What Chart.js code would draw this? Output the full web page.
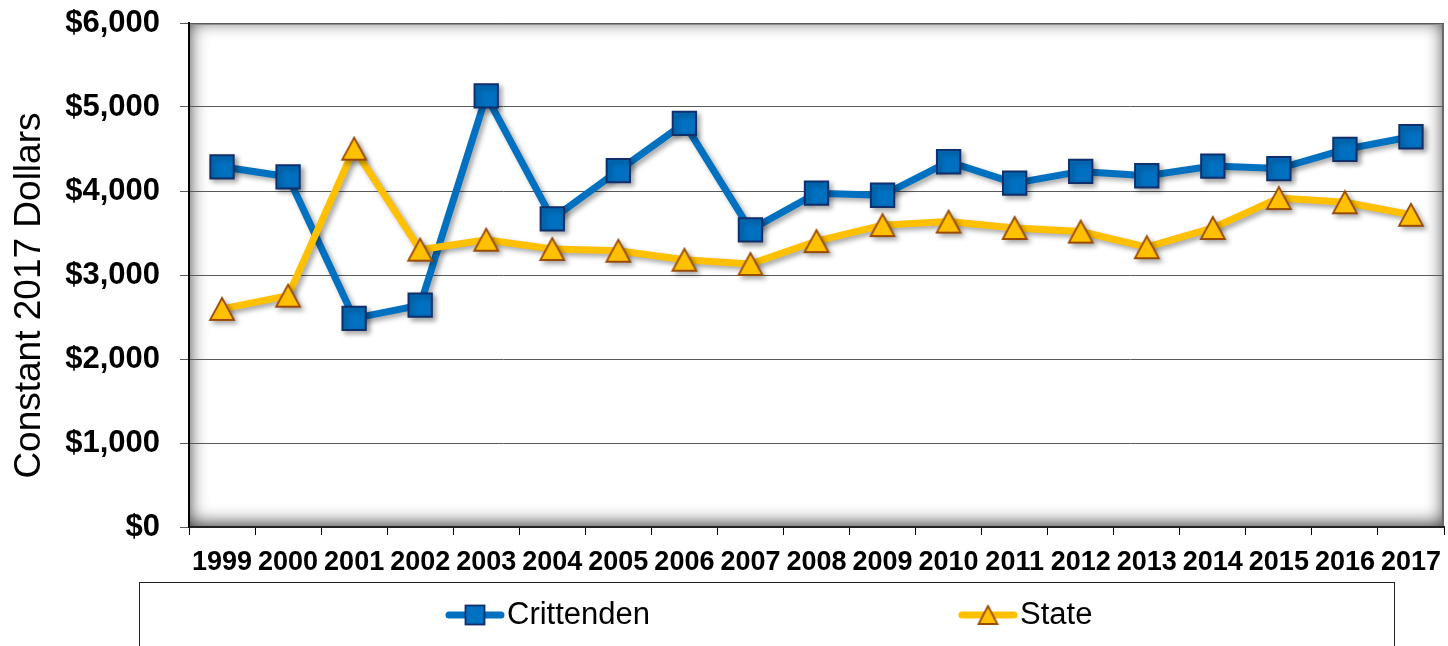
<!DOCTYPE html>
<html>
<head>
<meta charset="utf-8">
<script src="https://cdn.jsdelivr.net/npm/chart.js@4.4.1/dist/chart.umd.min.js"></script>
<style>
  body { margin: 0; background: #fff; }
  #chart { display: block; }
</style>
</head>
<body>
<canvas id="chart" width="1448" height="646"></canvas>
<script>
const years = ["1999", "2000", "2001", "2002", "2003", "2004", "2005", "2006", "2007", "2008",
  "2009", "2010", "2011", "2012", "2013", "2014", "2015", "2016", "2017"];
const crittenden = [4288, 4169, 2484, 2641, 5133, 3669, 4242, 4806, 3537, 3974,
  3949, 4348, 4093, 4233, 4182, 4297, 4267, 4495, 4646];
const state = [2596, 2754, 4504, 3302, 3420, 3309, 3289, 3182, 3131, 3404,
  3594, 3636, 3560, 3517, 3331, 3560, 3916, 3866, 3717];
const yTicks = [0, 1000, 2000, 3000, 4000, 5000, 6000];
const seriesNames = ["Crittenden", "State"];
const yTitle = "Constant 2017 Dollars";

const FONT = "'Liberation Sans', Arial, sans-serif";
const BLUE = "#0070C0";
const NAVY = "#102F6B";
const GOLD = "#FFC000";
const BROWN = "#9A4B06";

// triangle marker centred on its box, like the spreadsheet one
function triangleImage(w, h) {
  const c = document.createElement("canvas");
  c.width = w + 4;
  c.height = h + 4;
  const g = c.getContext("2d");
  g.beginPath();
  g.moveTo(c.width / 2, 2);
  g.lineTo(c.width - 2, c.height - 2);
  g.lineTo(2, c.height - 2);
  g.closePath();
  g.fillStyle = GOLD;
  g.fill();
  g.lineWidth = 1.8;
  g.strokeStyle = BROWN;
  g.stroke();
  return c;
}

const plotBackground = {
  id: "plotBackground",
  beforeDraw(chart) {
    const { ctx, chartArea: a } = chart;
    const w = a.right - a.left, h = a.bottom - a.top;
    ctx.save();
    ctx.beginPath();
    ctx.rect(a.left, a.top, w, h);
    ctx.clip();
    ctx.fillStyle = "#fff";
    ctx.fillRect(a.left, a.top, w, h);
    ctx.shadowColor = "rgba(0,0,0,0.8)";
    ctx.shadowBlur = 18;
    ctx.shadowOffsetY = -3;
    ctx.lineWidth = 40;
    ctx.strokeStyle = "#000";
    ctx.strokeRect(a.left - 20, a.top - 20, w + 40, h + 40);
    ctx.restore();
    ctx.save();
    ctx.strokeStyle = "#8c8c8c";
    ctx.lineWidth = 2;
    ctx.beginPath();
    ctx.moveTo(a.left, a.top + 1);
    ctx.lineTo(a.right, a.top + 1);
    ctx.stroke();
    ctx.strokeStyle = "#6a6a6a";
    ctx.beginPath();
    ctx.moveTo(a.right - 1, a.top);
    ctx.lineTo(a.right - 1, a.bottom);
    ctx.stroke();
    ctx.restore();
  }
};

const lineShadow = {
  id: "lineShadow",
  beforeDatasetsDraw(chart) {
    const ctx = chart.ctx;
    ctx.save();
    ctx.shadowColor = "rgba(0,0,0,0.35)";
    ctx.shadowBlur = 5;
    ctx.shadowOffsetX = 3;
    ctx.shadowOffsetY = 3;
  },
  afterDatasetsDraw(chart) {
    chart.ctx.restore();
  }
};

// boxed legend under the chart, line + marker + name
const boxLegend = {
  id: "boxLegend",
  afterDraw(chart) {
    const ctx = chart.ctx;
    ctx.save();
    ctx.strokeStyle = "#222";
    ctx.lineWidth = 1;
    ctx.strokeRect(139.5, 582.5, 1255, 100);

    const items = [
      { x: 446, text: seriesNames[0], color: BLUE },
      { x: 959, text: seriesNames[1], color: GOLD }
    ];
    const y = 615;
    items.forEach((it, i) => {
      ctx.strokeStyle = it.color;
      ctx.lineWidth = 7;
      ctx.lineCap = "round";
      ctx.beginPath();
      ctx.moveTo(it.x + 3, y);
      ctx.lineTo(it.x + 55, y);
      ctx.stroke();
      const cx = it.x + 29;
      if (i === 0) {
        ctx.fillStyle = BLUE;
        ctx.fillRect(cx - 9.5, y - 9.5, 19, 19);
        ctx.strokeStyle = NAVY;
        ctx.lineWidth = 1.8;
        ctx.strokeRect(cx - 9.5, y - 9.5, 19, 19);
      } else {
        const img = triangleImage(19, 18);
        ctx.drawImage(img, cx - img.width / 2, y - img.height / 2);
      }
      ctx.fillStyle = "#000";
      ctx.font = "31px " + FONT;
      ctx.textBaseline = "middle";
      ctx.textAlign = "left";
      ctx.fillText(it.text, it.x + 61, y);
    });
    ctx.restore();
  }
};

const ctx = document.getElementById("chart").getContext("2d");
new Chart(ctx, {
  type: "line",
  data: {
    labels: years,
    datasets: [
      {
        label: seriesNames[0],
        data: crittenden,
        order: 1,
        borderColor: BLUE,
        borderWidth: 7,
        tension: 0,
        pointStyle: "rect",
        pointRadius: 16.5,
        pointBackgroundColor: BLUE,
        pointBorderColor: NAVY,
        pointBorderWidth: 2
      },
      {
        label: seriesNames[1],
        data: state,
        order: 0,
        borderColor: GOLD,
        borderWidth: 7,
        tension: 0,
        pointStyle: triangleImage(24, 22),
        pointRadius: 13,
        pointBackgroundColor: GOLD,
        pointBorderColor: BROWN,
        pointBorderWidth: 2
      }
    ]
  },
  options: {
    responsive: false,
    animation: false,
    devicePixelRatio: 1,
    layout: { autoPadding: false, padding: { top: 23, right: 4, bottom: 64, left: 0 } },
    plugins: {
      legend: { display: false },
      tooltip: { enabled: false }
    },
    scales: {
      x: {
        offset: true,
        grid: { display: true, drawOnChartArea: false, drawTicks: true, tickLength: 8, offset: true, color: "#000" },
        border: { display: true, color: "#222", width: 2 },
        ticks: {
          autoSkip: false, maxRotation: 0, minRotation: 0, padding: 11, color: "#000",
          font: { family: FONT, size: 27, weight: "bold" }
        },
        afterFit: s => { s.height = 55; s.paddingLeft = 0; s.paddingRight = 0; }
      },
      y: {
        min: 0,
        max: 6000,
        afterBuildTicks: s => { s.ticks = yTicks.map(v => ({ value: v })); },
        grid: { color: "#5a5a5a", lineWidth: 1, tickLength: 9 },
        border: { display: true, color: "#000", width: 2 },
        ticks: {
          padding: 20, color: "#000",
          font: { family: FONT, size: 31, weight: "bold" },
          callback: v => "$" + Number(v).toLocaleString("en-US")
        },
        title: {
          display: true,
          text: yTitle + "\u00a0\u00a0\u00a0\u00a0",
          color: "#000",
          font: { family: FONT, size: 37, weight: "normal" },
          padding: { top: 8, bottom: 0 }
        },
        afterFit: s => { s.width = 189; s.paddingTop = 0; s.paddingBottom = 0; }
      }
    }
  },
  plugins: [plotBackground, lineShadow, boxLegend]
});
</script>
</body>
</html>
